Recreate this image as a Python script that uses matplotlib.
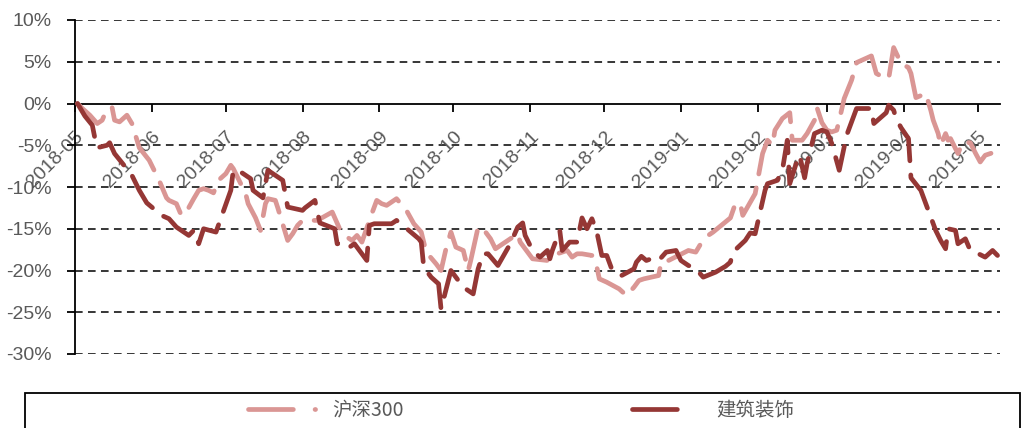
import matplotlib
matplotlib.use("Agg")
import matplotlib.pyplot as plt
from matplotlib.lines import Line2D
from matplotlib.patches import Rectangle
import pandas as pd

plt.rcParams['font.family'] = ['Liberation Sans', 'Noto Sans CJK SC', 'DejaVu Sans']

series_names = ["沪深300", "建筑装饰"]

hs_dates = ["2018-05-02","2018-05-04","2018-05-07","2018-05-10","2018-05-12","2018-05-14","2018-05-16","2018-05-17",
"2018-05-19","2018-05-22","2018-05-24","2018-05-27","2018-05-31","2018-06-04","2018-06-07","2018-06-08","2018-06-11",
"2018-06-13","2018-06-15","2018-06-18","2018-06-20","2018-06-22","2018-06-24","2018-06-26","2018-06-28","2018-07-01",
"2018-07-03","2018-07-04","2018-07-09","2018-07-10","2018-07-13","2018-07-15","2018-07-17","2018-07-18","2018-07-21",
"2018-07-22","2018-07-26","2018-07-28","2018-07-30","2018-08-01","2018-08-07","2018-08-13","2018-08-16","2018-08-18",
"2018-08-21","2018-08-23","2018-08-25","2018-08-29","2018-08-31","2018-09-02","2018-09-04","2018-09-08","2018-09-12",
"2018-09-15","2018-09-18","2018-09-20","2018-09-24","2018-09-26","2018-09-28","2018-09-30","2018-10-02","2018-10-05",
"2018-10-06","2018-10-07","2018-10-08","2018-10-11","2018-10-13","2018-10-16","2018-10-18","2018-10-22","2018-10-24",
"2018-10-27","2018-10-28","2018-11-02","2018-11-08","2018-11-12","2018-11-16","2018-11-18","2018-11-20","2018-11-22",
"2018-11-26","2018-11-28","2018-11-29","2018-12-02","2018-12-07","2018-12-10","2018-12-13","2018-12-15","2018-12-17",
"2018-12-23","2018-12-24","2018-12-27","2019-01-04","2019-01-07","2019-01-09","2019-01-12","2019-01-14","2019-01-21",
"2019-01-23","2019-01-25","2019-01-26","2019-01-31","2019-02-03","2019-02-05","2019-02-07","2019-02-08","2019-02-11",
"2019-02-14","2019-02-15","2019-02-19","2019-02-21","2019-02-24","2019-02-25","2019-02-27","2019-03-01","2019-03-03",
"2019-03-05","2019-03-06","2019-03-08","2019-03-11","2019-03-13","2019-03-19","2019-03-21","2019-03-24","2019-03-26",
"2019-03-28","2019-03-31","2019-04-03","2019-04-04","2019-04-06","2019-04-10","2019-04-12","2019-04-13","2019-04-15",
"2019-04-16","2019-04-18","2019-04-19","2019-04-20","2019-04-23","2019-04-25","2019-04-28","2019-04-30","2019-05-02",
"2019-05-04","2019-05-08"]
hs_values = [0.0,-0.6,-1.4,-2.4,-2.0,-0.6,-0.5,-2.0,
-2.2,-1.4,-2.4,-5.3,-6.8,-9.2,-11.3,-11.6,-12.0,
-13.4,-13.0,-11.4,-10.4,-10.2,-10.4,-10.7,-9.2,-8.4,
-7.4,-7.8,-10.8,-12.0,-13.7,-15.2,-12.0,-11.4,-11.6,
-12.5,-16.4,-15.6,-14.6,-14.0,-14.0,-13.0,-15.0,-15.8,
-16.4,-15.8,-16.6,-13.2,-11.6,-12.0,-12.2,-11.4,-12.8,
-14.4,-15.4,-17.8,-19.2,-20.0,-17.4,-15.4,-17.2,-17.6,
-18.8,-20.0,-18.8,-14.8,-15.0,-16.2,-17.4,-16.6,-16.2,
-15.6,-16.6,-18.6,-18.8,-18.0,-17.6,-18.4,-18.0,-18.0,
-18.2,-19.6,-21.0,-21.4,-22.2,-23.0,-22.0,-21.2,-21.0,
-20.6,-19.0,-18.8,-17.6,-17.8,-16.8,-15.8,-15.4,-13.7,
-12.0,-12.0,-13.4,-10.8,-6.0,-4.4,-5.0,-3.2,-1.8,
-1.1,-4.4,-4.4,-3.6,-2.0,-0.5,-2.3,-3.2,-3.4,
-3.2,-2.0,0.6,2.8,4.9,5.7,3.6,3.1,3.0,
6.7,4.8,4.3,3.6,0.7,1.2,-0.8,-2.0,-3.6,
-5.0,-3.6,-4.4,-4.2,-6.0,-4.6,-4.7,-5.9,-7.0,
-6.2,-5.8]

jz_dates = ["2018-05-02","2018-05-05","2018-05-08","2018-05-09","2018-05-10","2018-05-14","2018-05-15","2018-05-17",
"2018-05-20","2018-05-24","2018-05-27","2018-05-30","2018-06-05","2018-06-08","2018-06-11","2018-06-16","2018-06-18",
"2018-06-20","2018-06-22","2018-06-27","2018-07-03","2018-07-04","2018-07-07","2018-07-11","2018-07-12","2018-07-16",
"2018-07-18","2018-07-24","2018-07-26","2018-08-01","2018-08-02","2018-08-06","2018-08-08","2018-08-14","2018-08-15",
"2018-08-18","2018-08-20","2018-08-22","2018-08-27","2018-08-28","2018-08-30","2018-09-06","2018-09-08","2018-09-13",
"2018-09-17","2018-09-18","2018-09-19","2018-09-22","2018-09-25","2018-09-26","2018-09-30","2018-10-03","2018-10-05",
"2018-10-09","2018-10-11","2018-10-13","2018-10-15","2018-10-19","2018-10-24","2018-10-27","2018-10-29","2018-10-30",
"2018-11-02","2018-11-05","2018-11-08","2018-11-09","2018-11-10","2018-11-13","2018-11-14","2018-11-17","2018-11-20",
"2018-11-22","2018-11-24","2018-11-26","2018-11-28","2018-11-30","2018-12-02","2018-12-04","2018-12-06","2018-12-08",
"2018-12-13","2018-12-14","2018-12-16","2018-12-18","2018-12-20","2018-12-23","2018-12-26","2018-12-30","2019-01-01",
"2019-01-04","2019-01-07","2019-01-10","2019-01-15","2019-01-19","2019-01-21","2019-01-22","2019-01-27","2019-01-29",
"2019-01-31","2019-02-02","2019-02-04","2019-02-05","2019-02-09","2019-02-11","2019-02-13","2019-02-14","2019-02-17",
"2019-02-18","2019-02-20","2019-02-21","2019-02-24","2019-02-27","2019-03-01","2019-03-03","2019-03-06","2019-03-09",
"2019-03-12","2019-03-13","2019-03-19","2019-03-20","2019-03-25","2019-03-26","2019-03-28","2019-03-29","2019-03-31",
"2019-04-03","2019-04-04","2019-04-08","2019-04-14","2019-04-16","2019-04-18","2019-04-19","2019-04-22","2019-04-23",
"2019-04-26","2019-04-28","2019-04-30","2019-05-04","2019-05-07","2019-05-09"]
jz_values = [0.0,-1.5,-2.6,-4.1,-5.3,-5.0,-4.7,-6.0,
-7.1,-8.6,-10.4,-11.9,-13.4,-13.8,-14.8,-15.8,-15.2,
-16.8,-15.0,-15.4,-10.4,-8.0,-8.2,-9.0,-10.4,-11.3,
-8.0,-9.2,-12.4,-12.8,-12.5,-11.6,-14.3,-15.0,-16.8,
-16.8,-17.2,-16.8,-18.8,-14.6,-14.4,-14.4,-14.0,-15.2,
-16.2,-16.6,-19.6,-20.8,-21.6,-24.6,-20.0,-21.2,-22.0,
-22.8,-19.8,-18.0,-18.0,-19.4,-16.8,-14.8,-14.3,-15.8,
-17.6,-18.4,-17.6,-18.6,-17.6,-15.2,-17.6,-16.6,-16.6,
-13.7,-15.0,-13.8,-15.4,-18.2,-18.2,-19.8,-20.0,-20.6,
-19.8,-19.0,-18.3,-18.8,-18.6,-18.8,-17.8,-17.6,-18.8,
-19.4,-19.8,-20.8,-20.2,-19.5,-19.0,-17.8,-16.4,-15.5,
-15.6,-13.0,-10.4,-9.6,-9.2,-8.0,-4.4,-9.6,-6.8,
-6.2,-8.9,-7.2,-3.6,-3.2,-3.4,-4.8,-8.0,-3.8,
-1.4,-0.6,-0.6,-2.4,-1.1,-0.2,-0.8,-1.8,-2.9,
-4.2,-8.9,-10.4,-15.2,-16.4,-17.4,-15.0,-15.2,-16.8,
-16.2,-17.6,-17.8,-18.4,-17.6,-18.2]

month_ticks = ["2018-05","2018-06","2018-07","2018-08","2018-09","2018-10","2018-11","2018-12",
               "2019-01","2019-02","2019-03","2019-04","2019-05"]
y_ticks = [10, 5, 0, -5, -10, -15, -20, -25, -30]

c_hs = "#DA9694"
c_jz = "#953735"
gray = "#595959"
tick_fs = 14

fig = plt.figure(figsize=(10.24, 4.28), dpi=100)
ax = fig.add_axes([75/1024, 1-354/428, (1000-75)/1024, (354-20)/428])

# spine placement first (it resets tick objects)
ax.spines['bottom'].set_position(('data', 0))
ax.spines['top'].set_visible(False)
ax.spines['right'].set_visible(False)
for s in ['bottom', 'left']:
    ax.spines[s].set_linewidth(1.3)
    ax.spines[s].set_color('black')

dash = (0, (8.0, 3.0))
ax.plot(pd.to_datetime(hs_dates), hs_values, color=c_hs, lw=3.4, linestyle=dash,
        dash_capstyle='round', solid_capstyle='round', zorder=3)
ax.plot(pd.to_datetime(jz_dates), jz_values, color=c_jz, lw=3.4, linestyle=dash,
        dash_capstyle='round', solid_capstyle='round', zorder=4)

ax.set_ylim(-30, 10)
ax.set_xlim(pd.Timestamp("2018-05-01"), pd.Timestamp("2019-05-10"))
ax.set_yticks(y_ticks)
ax.set_yticklabels([f"{v}%" for v in y_ticks], color=gray, fontsize=tick_fs)
for v in y_ticks:
    if v != 0:
        ax.axhline(v, color='black', lw=1.1, linestyle=(0, (5, 3.5)), zorder=1)

ticks = pd.to_datetime([m + "-01" for m in month_ticks])
ax.set_xticks(ticks)
ax.set_xticklabels(month_ticks, rotation=45, ha='right', va='top', rotation_mode='anchor',
                   color=gray, fontsize=tick_fs)
ax.tick_params(axis='x', direction='out', length=6, width=1.3, pad=12)
ax.tick_params(axis='y', direction='out', length=6, width=1.3, pad=11)
ax.set_facecolor('none')

fig.patches.append(Rectangle((25/1024, -0.2), (1020-25)/1024, 0.2 + (1 - 393/428),
                             transform=fig.transFigure, fill=False, edgecolor='black', lw=1.3))

leg_fs = 14
common = dict(loc='center left', frameon=False, handlelength=3.9, handletextpad=0.45,
              borderpad=0, borderaxespad=0,
              prop={'family': ['Noto Sans CJK SC', 'DejaVu Sans'], 'size': leg_fs})
h1 = Line2D([], [], color=c_hs, lw=3.4, linestyle=(0, (9.5, 4.6, 0.1, 10)), dash_capstyle='round')
h2 = Line2D([], [], color=c_jz, lw=3.4, linestyle=(0, (9.5, 10)), dash_capstyle='round')
leg1 = fig.legend([h1], [series_names[0]], bbox_to_anchor=(248/1024, 1 - 410/428), **common)
leg2 = fig.legend([h2], [series_names[1]], bbox_to_anchor=(632/1024, 1 - 410/428), **common)
for lg in (leg1, leg2):
    for t in lg.get_texts():
        t.set_color(gray)

fig.savefig("out.png", dpi=100)
